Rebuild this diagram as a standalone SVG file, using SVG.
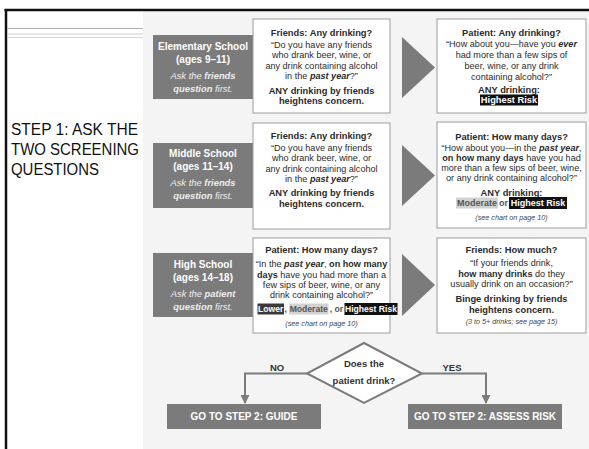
<svg xmlns="http://www.w3.org/2000/svg" width="589" height="449" viewBox="0 0 589 449">
<style>
.bg{fill:#f4f4f4}
.card{fill:#fff;stroke:#9c9c9c;stroke-width:1}
.school{fill:#7b7b7b}
.tri{fill:#7b7b7b}
.t{font-family:"Liberation Sans",Arial,sans-serif;fill:#2b2b2b;text-anchor:middle}
.body{font-size:9.1px}
.ttl{font-size:9.3px;font-weight:bold}
.b{font-weight:bold}
.bi{font-weight:bold;font-style:italic}
.note{font-size:7.2px;font-style:italic;fill:#444}
.sh{font-size:10px;font-weight:bold;fill:#fff}
.si{font-size:9.4px;font-style:italic;fill:#eee}
.step{font-family:"Liberation Sans",Arial,sans-serif;font-size:16px;fill:#111}
.go{font-family:"Liberation Sans",Arial,sans-serif;font-size:10px;font-weight:bold;fill:#fff;text-anchor:middle}
.conn{fill:none;stroke:#7b7b7b;stroke-width:2}
.lbl{font-family:"Liberation Sans",Arial,sans-serif;font-size:9.5px;font-weight:bold;fill:#333;text-anchor:middle}
.risk{font-family:"Liberation Sans",Arial,sans-serif;font-weight:bold;text-anchor:middle}
</style>
<defs>
<marker id="ah" viewBox="0 0 10 10" refX="9" refY="5" markerWidth="4.5" markerHeight="4.5" orient="auto" markerUnits="strokeWidth">
<path d="M0,0 L10,5 L0,10 z" fill="#7b7b7b"/>
</marker>
</defs>

<!-- page frame -->
<rect x="0" y="0" width="589" height="449" fill="#fff"/>
<rect class="bg" x="143" y="11" width="446" height="438"/>
<line x1="4.5" y1="10" x2="589" y2="10" stroke="#111" stroke-width="2.5"/>
<line x1="6" y1="9" x2="6" y2="449" stroke="#111" stroke-width="2.5"/>
<line x1="7" y1="28.5" x2="143" y2="28.5" stroke="#b0b0b0" stroke-width="1"/>
<line x1="7" y1="34" x2="143" y2="34" stroke="#cfcfcf" stroke-width="1"/>
<line x1="7" y1="37.5" x2="143" y2="37.5" stroke="#d6d6d6" stroke-width="1"/>

<g id="step-title">
<text class="step" x="11" y="135" textLength="127" lengthAdjust="spacingAndGlyphs">STEP 1: ASK THE</text>
<text class="step" x="11" y="155" textLength="128" lengthAdjust="spacingAndGlyphs">TWO SCREENING</text>
<text class="step" x="11" y="175" textLength="88" lengthAdjust="spacingAndGlyphs">QUESTIONS</text>
</g>

<!-- Row 1 -->
<g id="elementary">
<rect class="school" x="153" y="35" width="100" height="64"/>
<text class="t sh" x="203" y="49.5">Elementary School</text>
<text class="t sh" x="203" y="62.5">(ages 9–11)</text>
<text class="t si" x="203" y="79">Ask the <tspan class="b">friends</tspan></text>
<text class="t si" x="203" y="91.5"><tspan class="b">question</tspan> first.</text>
</g>
<g id="friends-any-1">
<rect class="card" x="253" y="19" width="137" height="94"/>
<text class="t ttl" x="321.5" y="36">Friends:  Any drinking?</text>
<text class="t body" x="321.5" y="47.5">“Do you have any friends</text>
<text class="t body" x="321.5" y="58">who drank beer, wine, or</text>
<text class="t body" x="321.5" y="68.5">any drink containing alcohol</text>
<text class="t body" x="321.5" y="79">in the <tspan class="bi">past year</tspan>?”</text>
<text class="t ttl" x="321.5" y="93.5">ANY drinking by friends</text>
<text class="t ttl" x="321.5" y="104">heightens concern.</text>
</g>
<g id="arrow-1"><polygon class="tri" points="402,37 435,67.5 402,98"/></g>
<g id="patient-any">
<rect class="card" x="437" y="19" width="149" height="94"/>
<text class="t ttl" x="511.5" y="35.5">Patient:  Any drinking?</text>
<text class="t body" x="511.5" y="47">“How about you—have you <tspan class="bi">ever</tspan></text>
<text class="t body" x="511.5" y="58">had more than a few sips of</text>
<text class="t body" x="511.5" y="69">beer, wine, or any drink</text>
<text class="t body" x="511.5" y="80">containing alcohol?”</text>
<text class="t ttl" x="509" y="93">ANY drinking:</text>
<rect x="480" y="94.5" width="58" height="11" fill="#111"/>
<text class="risk" x="509" y="103.3" font-size="9.3" fill="#fff">Highest Risk</text>
</g>

<!-- Row 2 -->
<g id="middle">
<rect class="school" x="153" y="143" width="100" height="65"/>
<text class="t sh" x="203" y="156.5">Middle School</text>
<text class="t sh" x="203" y="169.5">(ages 11–14)</text>
<text class="t si" x="203" y="186">Ask the <tspan class="b">friends</tspan></text>
<text class="t si" x="203" y="198.5"><tspan class="b">question</tspan> first.</text>
</g>
<g id="friends-any-2">
<rect class="card" x="253" y="123" width="137" height="106"/>
<text class="t ttl" x="321.5" y="138.5">Friends:  Any drinking?</text>
<text class="t body" x="321.5" y="150.5">“Do you have any friends</text>
<text class="t body" x="321.5" y="161">who drank beer, wine, or</text>
<text class="t body" x="321.5" y="171.5">any drink containing alcohol</text>
<text class="t body" x="321.5" y="182">in the <tspan class="bi">past year</tspan>?”</text>
<text class="t ttl" x="321.5" y="196">ANY drinking by friends</text>
<text class="t ttl" x="321.5" y="206.5">heightens concern.</text>
</g>
<g id="arrow-2"><polygon class="tri" points="402,145 435,175.5 402,206"/></g>
<g id="patient-days-1">
<rect class="card" x="437" y="122" width="149" height="106"/>
<text class="t ttl" x="511.5" y="139.5">Patient:  How many days?</text>
<text class="t body" x="511.5" y="150.5">“How about you—in the <tspan class="bi">past year</tspan>,</text>
<text class="t body" x="511.5" y="160.5"><tspan class="b">on how many days</tspan> have you had</text>
<text class="t body" x="511.5" y="170.5">more than a few sips of beer, wine,</text>
<text class="t body" x="511.5" y="180.5">or any drink containing alcohol?”</text>
<text class="t ttl" x="511.5" y="195.5">ANY drinking:</text>
<rect x="456" y="197.5" width="42" height="11" fill="#d2d2d2"/>
<text class="risk" x="477" y="206.3" font-size="9" fill="#555">Moderate</text>
<text class="risk" x="503.5" y="206.3" font-size="9" fill="#555" font-weight="normal">or</text>
<rect x="509" y="197" width="58" height="12" fill="#111"/>
<text class="risk" x="538" y="206.3" font-size="9" fill="#fff">Highest  Risk</text>
<text class="t note" x="511.5" y="219.5">(see chart on page 10)</text>
</g>

<!-- Row 3 -->
<g id="high">
<rect class="school" x="153" y="253" width="100" height="64"/>
<text class="t sh" x="203" y="267.5">High School</text>
<text class="t sh" x="203" y="280.5">(ages 14–18)</text>
<text class="t si" x="203" y="296.5">Ask the <tspan class="b">patient</tspan></text>
<text class="t si" x="203" y="309.5"><tspan class="b">question</tspan> first.</text>
</g>
<g id="patient-days-2">
<rect class="card" x="253" y="238" width="137" height="95"/>
<text class="t ttl" x="321.5" y="253">Patient:  How many days?</text>
<text class="t body" x="321.5" y="267">“In the <tspan class="bi">past year</tspan>, <tspan class="b">on how many</tspan></text>
<text class="t body" x="321.5" y="277.5"><tspan class="b">days</tspan> have you had more than a</text>
<text class="t body" x="321.5" y="287.5">few sips of beer, wine, or any</text>
<text class="t body" x="321.5" y="297.5">drink containing alcohol?”</text>
<rect x="257.5" y="303.5" width="26.5" height="11" fill="#3a3a3a"/>
<text class="risk" x="270.75" y="312.2" font-size="8.6" fill="#fff">Lower</text>
<text class="risk" x="285.8" y="312.2" font-size="8.6" fill="#555">,</text>
<rect x="289" y="303.5" width="39.5" height="11" fill="#d2d2d2"/>
<text class="risk" x="308.75" y="312.2" font-size="8.6" fill="#555">Moderate</text>
<text class="risk" x="336.5" y="312.2" font-size="8.6" fill="#555" font-weight="normal">, or</text>
<rect x="344.5" y="303" width="53" height="12" fill="#111"/>
<text class="risk" x="371" y="312.2" font-size="8.6" fill="#fff">Highest  Risk</text>
<text class="t note" x="321.5" y="326">(see chart on page 10)</text>
</g>
<g id="arrow-3"><polygon class="tri" points="402,254 435,285 402,316"/></g>
<g id="friends-much">
<rect class="card" x="437" y="238" width="149" height="95"/>
<text class="t ttl" x="511.5" y="253">Friends:  How much?</text>
<text class="t body" x="511.5" y="266">“If your friends drink,</text>
<text class="t body" x="511.5" y="277"><tspan class="b">how many drinks</tspan> do they</text>
<text class="t body" x="511.5" y="287">usually drink on an occasion?”</text>
<text class="t ttl" x="511.5" y="301.5">Binge drinking by friends</text>
<text class="t ttl" x="511.5" y="312.5">heightens concern.</text>
<text class="t note" x="511.5" y="324">(3 to 5+ drinks; see page 15)</text>
</g>

<!-- Decision -->
<g id="decision">
<polygon points="364,343 422,373.5 364,403 307,373.5" fill="#fff" stroke="#7b7b7b" stroke-width="2"/>
<text class="lbl" x="364" y="367" font-size="10">Does the</text>
<text class="lbl" x="364" y="384" font-size="10">patient drink?</text>
</g>

<g id="connectors">
<path class="conn" d="M307,373.5 H245 V403" marker-end="url(#ah)"/>
<path class="conn" d="M422,373.5 H486 V403" marker-end="url(#ah)"/>
<text class="lbl" x="277" y="370.5">NO</text>
<text class="lbl" x="452" y="370.5">YES</text>
</g>

<g id="guide">
<rect class="school" x="167" y="404" width="154" height="25"/>
<text class="go" x="244" y="420">GO TO STEP 2: GUIDE</text>
</g>
<g id="assess">
<rect class="school" x="408" y="404" width="154" height="25"/>
<text class="go" x="485" y="420">GO TO STEP 2: ASSESS RISK</text>
</g>
</svg>
